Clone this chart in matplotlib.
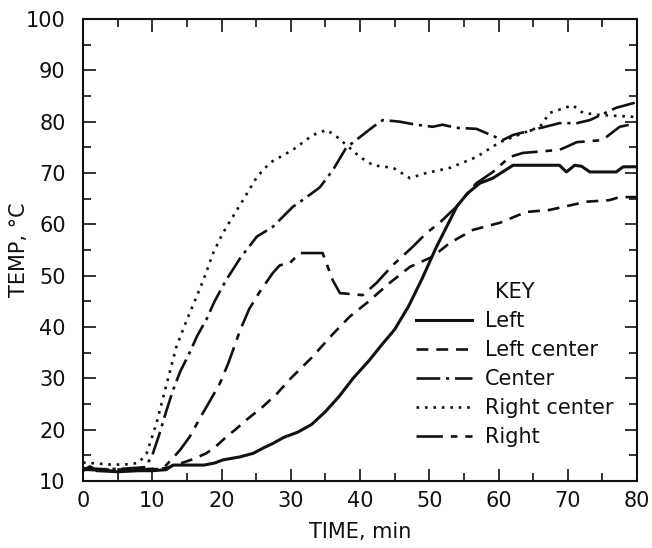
import matplotlib
matplotlib.use("Agg")
import matplotlib.pyplot as plt
from matplotlib.ticker import MultipleLocator

# values (time in min, temperature in deg C)
left_t = [0, 1, 2, 5, 8, 10, 12, 13, 17.5, 19, 20.2, 22.7, 24.6, 26, 27.4, 29, 31, 33, 35, 37,
          39, 41.4, 43, 45, 47, 49, 51, 52.5, 54, 55.5, 57.3, 59.2, 62.1, 68.8, 69.8, 71, 72,
          73.2, 77, 78, 80]
left = [12, 12.8, 12, 11.8, 12, 12, 12.2, 13.1, 13.1, 13.5, 14.1, 14.7, 15.4, 16.4, 17.3, 18.5,
        19.5, 21, 23.5, 26.5, 30, 33.6, 36.3, 39.5, 44, 49.5, 55.5, 59.5, 63.5, 66, 68, 69, 71.5,
        71.5, 70.2, 71.5, 71.3, 70.2, 70.2, 71.2, 71.2]

left_center_t = [0, 4, 8, 12, 13, 14.5, 16, 17.8, 19, 20.7, 22, 23.6, 26, 28, 30, 33, 36, 38.5,
                 41, 44.3, 47.2, 50.5, 53, 56.3, 60.2, 64, 67.4, 70.7, 72.7, 76, 77.5, 80]
left_center = [12.2, 12, 12.2, 12.5, 13, 13.6, 14.3, 15.4, 16.5, 18.6, 20, 21.9, 24.5, 27, 30,
               34, 38.5, 42, 44.7, 48.6, 51.7, 53.7, 56.4, 58.9, 60.3, 62.4, 62.8, 63.8, 64.4,
               64.7, 65.3, 65.3]

center_t = [0, 3, 6, 9, 10, 11, 12, 13, 14, 15.4, 16.5, 17.8, 19, 20.7, 22.7, 25.1, 27.4, 30.3,
            32, 34.2, 36.1, 38, 40, 41.9, 43.3, 45.7, 48.1, 50.5, 51.9, 53.9, 56.8, 58.2, 60.6,
            62.1, 65, 68.8, 71.3, 73.2, 77, 80]
center = [12.5, 12.3, 12.4, 12.7, 15, 19, 23.5, 27.7, 31.2, 35, 38.3, 41.4, 45, 49.2, 53.4, 57.6,
          59.5, 63.4, 65, 67.2, 70.6, 74.9, 77, 79, 80.3, 80, 79.4, 79, 79.4, 78.8, 78.6, 77.8,
          76.4, 77.4, 78.4, 79.7, 79.7, 80.3, 82.7, 83.8]

right_center_t = [0, 2, 4, 6, 8, 9.2, 10.6, 11.6, 12.6, 13.5, 15, 16.4, 17.4, 18.8, 20.2, 21.6,
                  23.1, 25.1, 27, 30.3, 33.2, 35.2, 36.7, 38.5, 40, 41.9, 44.8, 47.2, 49.6, 53,
                  56.8, 60.2, 64, 66, 67.4, 70.7, 72.2, 74.6, 80]
right_center = [13.6, 13.4, 13.2, 13.2, 13.5, 15.4, 21.2, 26.4, 31.6, 36.2, 41.4, 45.9, 49.2,
                54.4, 58.3, 61.4, 64.7, 69.2, 72, 74.5, 77.4, 78.4, 77, 74.9, 73.1, 71.5, 71, 69,
                70, 71, 73.1, 76, 78, 79, 81.7, 83.2, 81.7, 81.3, 80.9]

right_t = [0, 4, 8, 11, 11.6, 13, 14, 15.4, 17, 18.5, 19.8, 21, 22.7, 24, 25.5, 27.4, 28.4, 29.9,
           31.3, 34.6, 36.1, 37.1, 40.4, 42.4, 44.7, 47.6, 49.6, 51.5, 53.9, 56.8, 59.2, 61.6,
           63.5, 68.8, 70, 71.3, 75, 77.5, 80]
right = [12.3, 12.2, 12.3, 12.3, 12.5, 14.5, 16, 18.6, 22.5, 26, 29.1, 33, 39.4, 43.5, 46.8,
         50.5, 52, 52.5, 54.4, 54.4, 49, 46.6, 46.2, 48.6, 52, 55.6, 58.3, 60.3, 63.4, 68, 70.2,
         73.1, 73.9, 74.5, 75.2, 76, 76.4, 79, 79.7]

labels = ["Left", "Left center", "Center", "Right center", "Right"]

plt.rcParams["font.family"] = ["DejaVu Sans"]
ink = "#111111"

fig = plt.figure(figsize=(6.52, 5.48), dpi=100)
ax = fig.add_axes([0.1273, 0.1223, 0.8497, 0.8431])

lw = 1.9
ax.plot(left_t, left, color=ink, lw=2.2, linestyle="-", label=labels[0])
ax.plot(left_center_t, left_center, color=ink, lw=lw, linestyle=(0, (4.5, 3)), label=labels[1])
ax.plot(center_t, center, color=ink, lw=lw, linestyle=(0, (9, 2.2, 1.2, 2.2)), label=labels[2])
ax.plot(right_center_t, right_center, color=ink, lw=lw, linestyle=(0, (1, 2.2)), label=labels[3])
ax.plot(right_t, right, color=ink, lw=lw, linestyle=(0, (10, 3, 2.5, 3)), label=labels[4])

ax.set_xlim(0, 80)
ax.set_ylim(10, 100)
ax.xaxis.set_major_locator(MultipleLocator(10))
ax.xaxis.set_minor_locator(MultipleLocator(5))
ax.yaxis.set_major_locator(MultipleLocator(10))
ax.yaxis.set_minor_locator(MultipleLocator(5))
ax.tick_params(which="both", direction="in", top=True, right=True, color=ink, width=1.2,
               labelsize=15, labelcolor=ink)
ax.tick_params(which="major", length=9)
ax.tick_params(which="minor", length=6)
ax.tick_params(axis="x", which="both", pad=7)
ax.tick_params(axis="y", which="both", pad=12.5)
for s in ax.spines.values():
    s.set_linewidth(1.5)
    s.set_color(ink)

ax.set_xlabel("TIME, min", fontsize=15, color=ink, labelpad=8)
ax.set_ylabel("TEMP, °C", fontsize=15, color=ink)
ax.yaxis.set_label_coords(-0.098, 0.5)

leg = ax.legend(title="KEY", frameon=False, fontsize=15, title_fontsize=15,
                loc="upper left", bbox_to_anchor=(0.5746, 0.463), handlelength=2.7,
                handletextpad=0.6, labelspacing=0.44, borderpad=0.2)
for t in leg.get_texts():
    t.set_color(ink)
leg.get_title().set_color(ink)

fig.savefig("out.png", dpi=100, facecolor="white")
